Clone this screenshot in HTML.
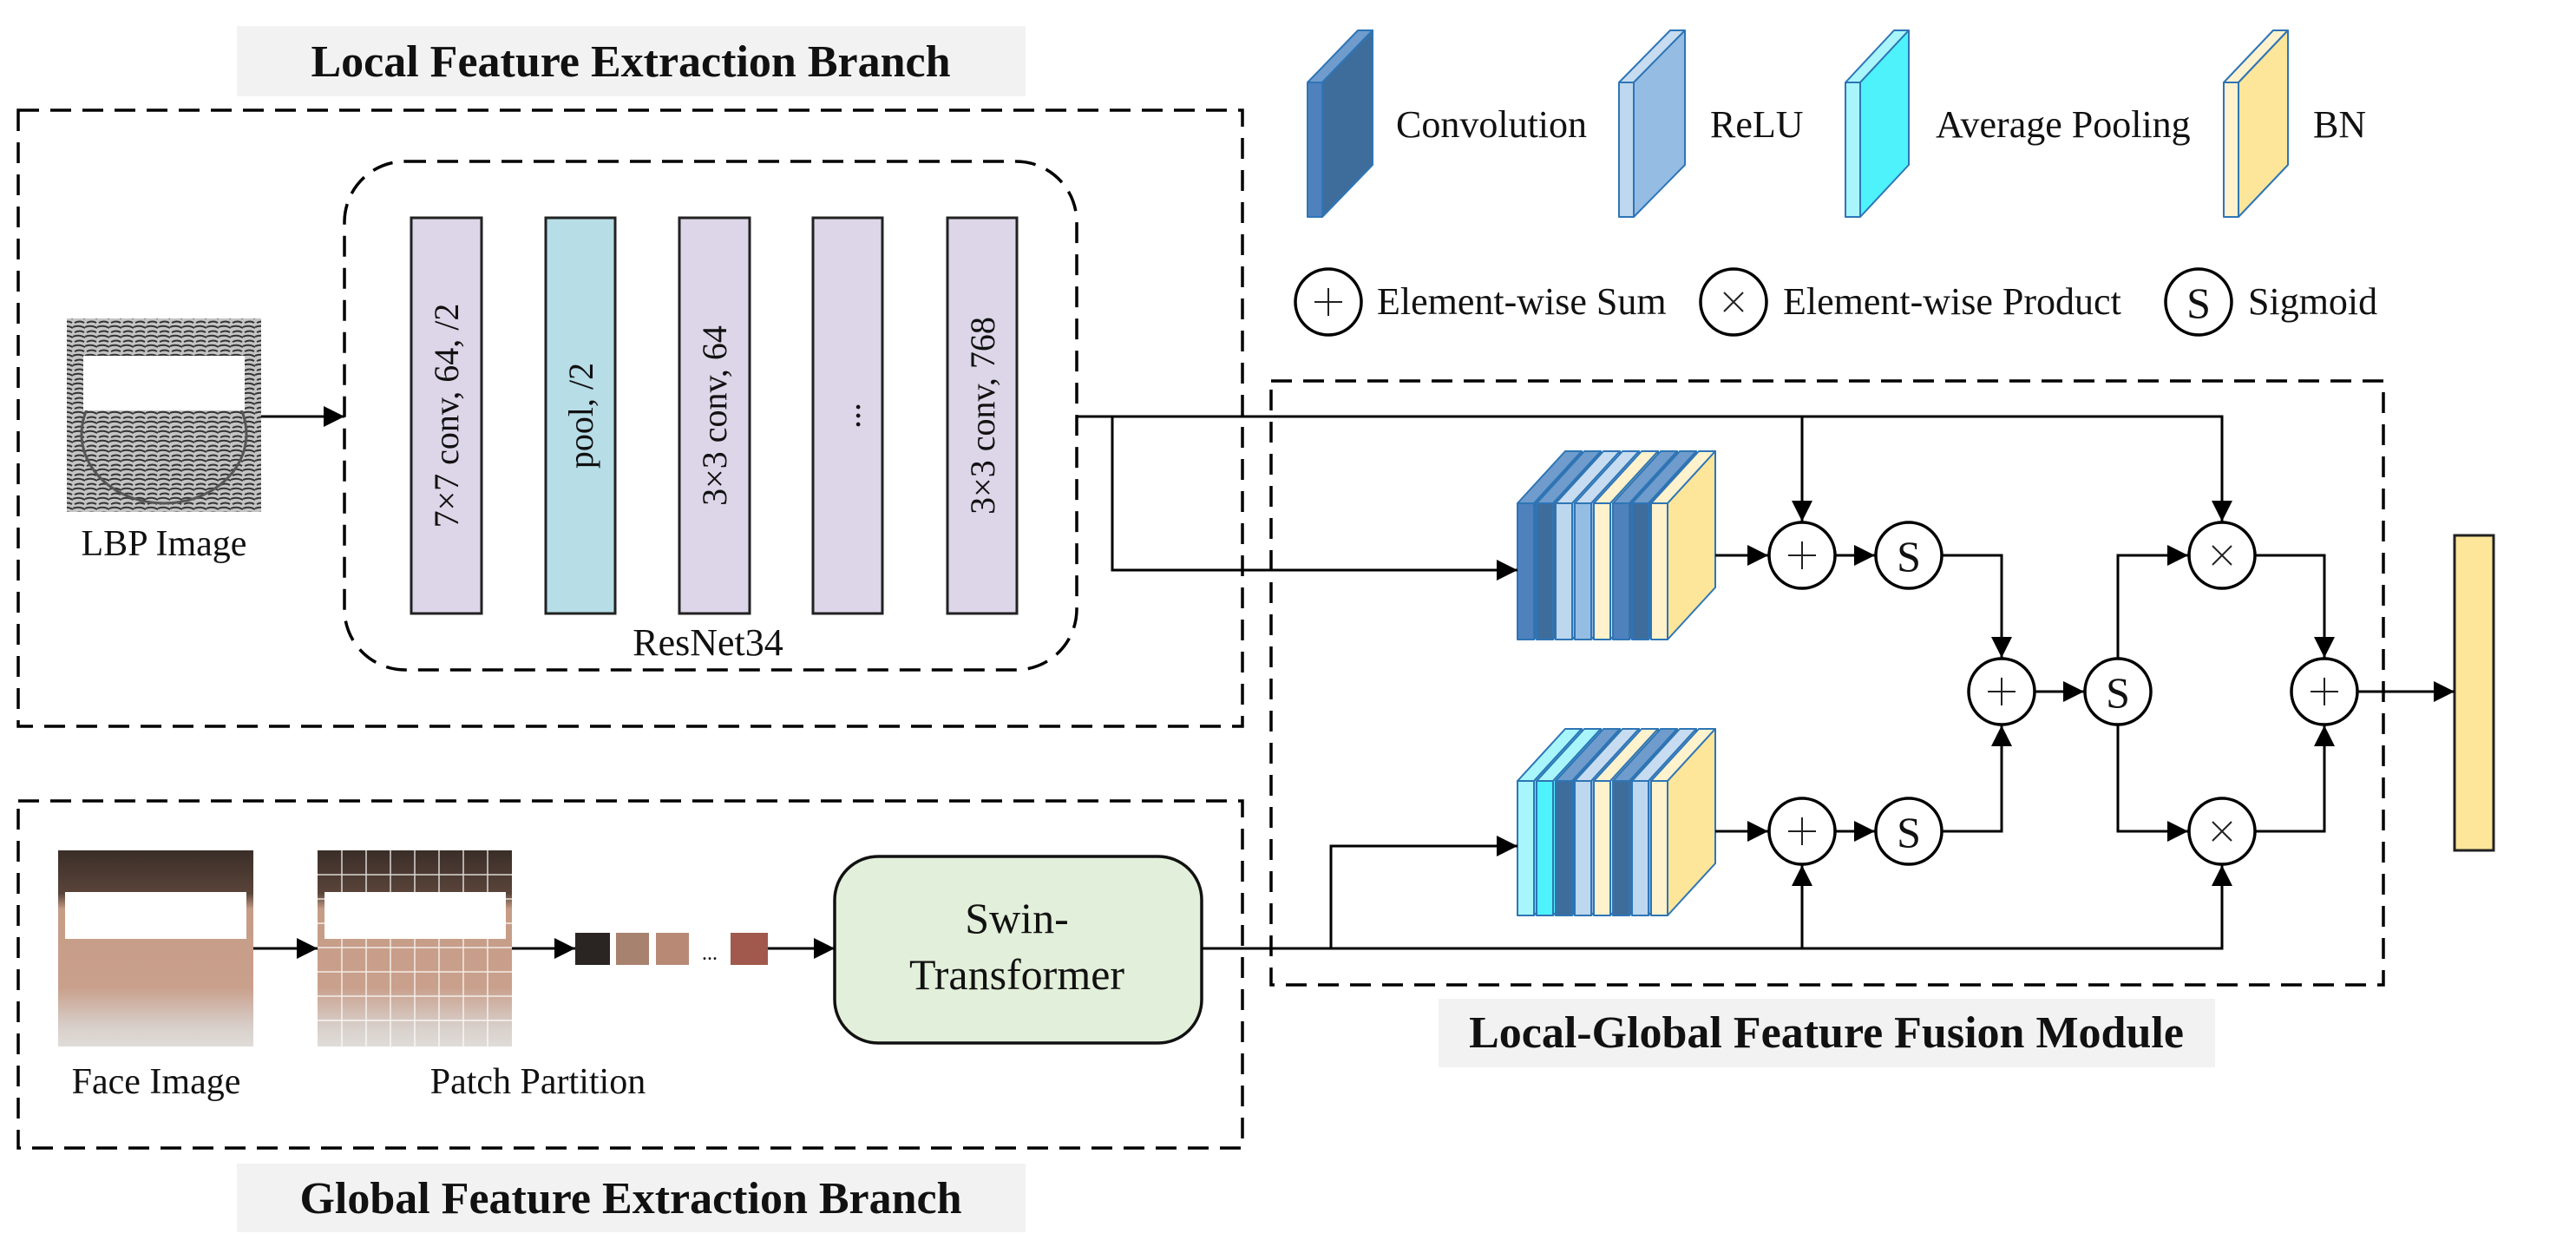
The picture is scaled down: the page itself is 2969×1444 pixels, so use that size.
<!DOCTYPE html>
<html><head><meta charset="utf-8"><style>
html,body{margin:0;padding:0;background:#fff}
svg{display:block}
text{font-family:"Liberation Serif",serif;fill:#111}
</style></head><body>
<svg width="2969" height="1444" viewBox="0 0 2969 1444" xmlns="http://www.w3.org/2000/svg">
<defs>
<marker id="ar" viewBox="0 0 10 10" refX="10" refY="5" markerWidth="8.5" markerHeight="8" markerUnits="strokeWidth" orient="auto"><path d="M0,0 L10,5 L0,10 z" fill="#000"/></marker>
<linearGradient id="skin" x1="0" y1="0" x2="0" y2="1"><stop offset="0" stop-color="#3a2e28"/><stop offset="0.22" stop-color="#5a443a"/><stop offset="0.3" stop-color="#c59c86"/><stop offset="0.7" stop-color="#c9a08c"/><stop offset="0.9" stop-color="#d8cfca"/><stop offset="1" stop-color="#e0dcd8"/></linearGradient>
<pattern id="lbp" width="14" height="11" patternUnits="userSpaceOnUse"><rect width="14" height="11" fill="#c4c4c4"/><path d="M0,3 Q7,0 14,4 M2,9 Q8,6 13,9" stroke="#333" stroke-width="2" fill="none"/></pattern>
</defs>

<rect x="273" y="30" width="909" height="81" fill="#f2f2f2"/>
<text x="727" y="88" font-size="52" font-weight="bold" text-anchor="middle">Local Feature Extraction Branch</text>
<rect x="273" y="1341" width="909" height="79" fill="#f2f2f2"/>
<text x="727" y="1398" font-size="52" font-weight="bold" text-anchor="middle">Global Feature Extraction Branch</text>
<rect x="1658" y="1151" width="895" height="79" fill="#f2f2f2"/>
<text x="2105" y="1207" font-size="52" font-weight="bold" text-anchor="middle">Local-Global Feature Fusion Module</text>

<g fill="none" stroke="#000" stroke-width="3.5" stroke-dasharray="24 13">
<rect x="21" y="127" width="1411" height="710"/>
<rect x="21" y="923" width="1411" height="400"/>
<rect x="1465" y="439" width="1282" height="696"/>
<rect x="397" y="186" width="844" height="586" rx="70"/>
</g>

<g stroke="#222" stroke-width="3">
<rect x="474" y="251" width="81" height="456" fill="#dcd6e8"/>
<rect x="629" y="251" width="80" height="456" fill="#b7dde7"/>
<rect x="783" y="251" width="81" height="456" fill="#dcd6e8"/>
<rect x="937" y="251" width="80" height="456" fill="#dcd6e8"/>
<rect x="1092" y="251" width="80" height="456" fill="#dcd6e8"/>
</g>
<g font-size="40">
<text transform="translate(528,479) rotate(-90)" text-anchor="middle">7×7 conv, 64, /2</text>
<text transform="translate(683,479) rotate(-90)" text-anchor="middle">pool, /2</text>
<text transform="translate(837,479) rotate(-90)" text-anchor="middle">3×3 conv, 64</text>
<text transform="translate(991,479) rotate(-90)" text-anchor="middle">...</text>
<text transform="translate(1146,479) rotate(-90)" text-anchor="middle">3×3 conv, 768</text>
</g>
<text x="816" y="755" font-size="44" text-anchor="middle">ResNet34</text>

<rect x="77" y="367" width="224" height="223" fill="url(#lbp)"/>
<ellipse cx="189" cy="500" rx="95" ry="80" fill="none" stroke="#555" stroke-width="3"/>
<rect x="96" y="410" width="186" height="63" fill="#fff"/>
<text x="189" y="640" font-size="42" text-anchor="middle">LBP Image</text>

<rect x="67" y="980" width="225" height="226" fill="url(#skin)"/>
<rect x="75" y="1028" width="209" height="54" fill="#fff"/>
<rect x="366" y="980" width="224" height="226" fill="url(#skin)"/>
<g stroke="#fff" stroke-width="1.5" opacity="0.8">
<path d="M394,980V1206M422,980V1206M450,980V1206M478,980V1206M506,980V1206M534,980V1206M562,980V1206M366,1008H590M366,1036H590M366,1064H590M366,1092H590M366,1120H590M366,1148H590M366,1176H590"/>
</g>
<rect x="374" y="1028" width="209" height="54" fill="#fff"/>
<text x="180" y="1260" font-size="42" text-anchor="middle">Face Image</text>
<text x="620" y="1260" font-size="42" text-anchor="middle">Patch Partition</text>
<rect x="663" y="1075" width="40" height="37" fill="#2a2522"/>
<rect x="710" y="1075" width="38" height="37" fill="#a7826e"/>
<rect x="756" y="1075" width="38" height="37" fill="#b88a76"/>
<text x="818" y="1106" font-size="24" text-anchor="middle">...</text>
<rect x="842" y="1075" width="43" height="37" fill="#a0594c"/>

<rect x="962" y="987" width="423" height="215" rx="50" fill="#e2efda" stroke="#111" stroke-width="3.5"/>
<text x="1172" y="1075" font-size="50" text-anchor="middle">Swin-</text>
<text x="1172" y="1140" font-size="50" text-anchor="middle">Transformer</text>

<g stroke="#2e75b6" stroke-width="2" stroke-linejoin="round">
<path d="M1507,95 L1565,35 L1582,35 L1524,95 Z" fill="#6f9ccc"/><path d="M1524,95 L1582,35 L1582,190 L1524,250 Z" fill="#3e6d9c"/><rect x="1507" y="95" width="17" height="155" fill="#4f81bd"/>
<path d="M1866,95 L1925,35 L1942,35 L1883,95 Z" fill="#c7dcf0"/><path d="M1883,95 L1942,35 L1942,190 L1883,250 Z" fill="#95bde3"/><rect x="1866" y="95" width="17" height="155" fill="#bdd7ee"/>
<path d="M2127,95 L2183,35 L2200,35 L2144,95 Z" fill="#a8f6fb"/><path d="M2144,95 L2200,35 L2200,190 L2144,250 Z" fill="#4ef2fb"/><rect x="2127" y="95" width="17" height="155" fill="#a8f5fb"/>
<path d="M2563,95 L2620,35 L2637,35 L2580,95 Z" fill="#fff2cc"/><path d="M2580,95 L2637,35 L2637,190 L2580,250 Z" fill="#fde599"/><rect x="2563" y="95" width="17" height="155" fill="#fff2cc"/>
</g>
<g font-size="44">
<text x="1609" y="158">Convolution</text>
<text x="1971" y="158">ReLU</text>
<text x="2231" y="158">Average Pooling</text>
<text x="2666" y="158">BN</text>
<text x="1587" y="362">Element-wise Sum</text>
<text x="2055" y="362">Element-wise Product</text>
<text x="2591" y="362">Sigmoid</text>
</g>

<g stroke="#2e75b6" stroke-width="2" stroke-linejoin="round">
<g>
<path d="M1749,580 L1804,520 L1823,520 L1768,580Z" fill="#6f9ccc"/><path d="M1768,580 L1823,520 L1823,677 L1768,737Z" fill="#3e6d9c"/><rect x="1749" y="580" width="19" height="157" fill="#4f81bd"/>
<path d="M1771,580 L1826,520 L1845,520 L1790,580Z" fill="#6f9ccc"/><path d="M1790,580 L1845,520 L1845,677 L1790,737Z" fill="#3e6d9c"/><rect x="1771" y="580" width="19" height="157" fill="#3e6d9c"/>
<path d="M1793,580 L1848,520 L1867,520 L1812,580Z" fill="#c7dcf0"/><path d="M1812,580 L1867,520 L1867,677 L1812,737Z" fill="#95bde3"/><rect x="1793" y="580" width="19" height="157" fill="#bdd7ee"/>
<path d="M1815,580 L1870,520 L1889,520 L1834,580Z" fill="#c7dcf0"/><path d="M1834,580 L1889,520 L1889,677 L1834,737Z" fill="#95bde3"/><rect x="1815" y="580" width="19" height="157" fill="#95bde3"/>
<path d="M1837,580 L1892,520 L1911,520 L1856,580Z" fill="#fff2cc"/><path d="M1856,580 L1911,520 L1911,677 L1856,737Z" fill="#fde599"/><rect x="1837" y="580" width="19" height="157" fill="#fff2cc"/>
<path d="M1859,580 L1914,520 L1933,520 L1878,580Z" fill="#6f9ccc"/><path d="M1878,580 L1933,520 L1933,677 L1878,737Z" fill="#3e6d9c"/><rect x="1859" y="580" width="19" height="157" fill="#4f81bd"/>
<path d="M1881,580 L1936,520 L1955,520 L1900,580Z" fill="#6f9ccc"/><path d="M1900,580 L1955,520 L1955,677 L1900,737Z" fill="#3e6d9c"/><rect x="1881" y="580" width="19" height="157" fill="#3e6d9c"/>
<path d="M1903,580 L1958,520 L1977,520 L1922,580Z" fill="#fff2cc"/><path d="M1922,580 L1977,520 L1977,677 L1922,737Z" fill="#fde599"/><rect x="1903" y="580" width="19" height="157" fill="#fff2cc"/>
</g>
<g>
<path d="M1749,900 L1804,840 L1823,840 L1768,900Z" fill="#a8f6fb"/><path d="M1768,900 L1823,840 L1823,995 L1768,1055Z" fill="#4ef2fb"/><rect x="1749" y="900" width="19" height="155" fill="#a8f5fb"/>
<path d="M1771,900 L1826,840 L1845,840 L1790,900Z" fill="#a8f6fb"/><path d="M1790,900 L1845,840 L1845,995 L1790,1055Z" fill="#4ef2fb"/><rect x="1771" y="900" width="19" height="155" fill="#4ef2fb"/>
<path d="M1793,900 L1848,840 L1867,840 L1812,900Z" fill="#6f9ccc"/><path d="M1812,900 L1867,840 L1867,995 L1812,1055Z" fill="#3e6d9c"/><rect x="1793" y="900" width="19" height="155" fill="#3e6d9c"/>
<path d="M1815,900 L1870,840 L1889,840 L1834,900Z" fill="#c7dcf0"/><path d="M1834,900 L1889,840 L1889,995 L1834,1055Z" fill="#95bde3"/><rect x="1815" y="900" width="19" height="155" fill="#bdd7ee"/>
<path d="M1837,900 L1892,840 L1911,840 L1856,900Z" fill="#fff2cc"/><path d="M1856,900 L1911,840 L1911,995 L1856,1055Z" fill="#fde599"/><rect x="1837" y="900" width="19" height="155" fill="#fff2cc"/>
<path d="M1859,900 L1914,840 L1933,840 L1878,900Z" fill="#6f9ccc"/><path d="M1878,900 L1933,840 L1933,995 L1878,1055Z" fill="#3e6d9c"/><rect x="1859" y="900" width="19" height="155" fill="#3e6d9c"/>
<path d="M1881,900 L1936,840 L1955,840 L1900,900Z" fill="#c7dcf0"/><path d="M1900,900 L1955,840 L1955,995 L1900,1055Z" fill="#95bde3"/><rect x="1881" y="900" width="19" height="155" fill="#bdd7ee"/>
<path d="M1903,900 L1958,840 L1977,840 L1922,900Z" fill="#fff2cc"/><path d="M1922,900 L1977,840 L1977,995 L1922,1055Z" fill="#fde599"/><rect x="1903" y="900" width="19" height="155" fill="#fff2cc"/>
</g>
</g>

<rect x="2829" y="617" width="45" height="363" fill="#fde599" stroke="#222" stroke-width="3"/>

<g fill="none" stroke="#000" stroke-width="3">
<path d="M301,480H397" marker-end="url(#ar)"/>
<path d="M1241,480H2561V601" marker-end="url(#ar)"/>
<path d="M2077,480V601" marker-end="url(#ar)"/>
<path d="M1282,480V657H1749" marker-end="url(#ar)"/>
<path d="M1977,640H2038" marker-end="url(#ar)"/>
<path d="M2116,640H2161" marker-end="url(#ar)"/>
<path d="M2239,640H2307V758" marker-end="url(#ar)"/>
<path d="M2346,797H2402" marker-end="url(#ar)"/>
<path d="M2441,758V640H2522" marker-end="url(#ar)"/>
<path d="M2600,640H2679V758" marker-end="url(#ar)"/>
<path d="M2441,836V958H2522" marker-end="url(#ar)"/>
<path d="M2600,958H2679V836" marker-end="url(#ar)"/>
<path d="M2718,797H2829" marker-end="url(#ar)"/>
<path d="M1977,958H2038" marker-end="url(#ar)"/>
<path d="M2116,958H2161" marker-end="url(#ar)"/>
<path d="M2239,958H2307V836" marker-end="url(#ar)"/>
<path d="M1385,1093H2561V997" marker-end="url(#ar)"/>
<path d="M2077,1093V997" marker-end="url(#ar)"/>
<path d="M1534,1093V975H1749" marker-end="url(#ar)"/>
<path d="M292,1093H366" marker-end="url(#ar)"/>
<path d="M590,1093H663" marker-end="url(#ar)"/>
<path d="M885,1093H962" marker-end="url(#ar)"/>
</g>

<g stroke="#000" stroke-width="3.5" fill="#fff">
<circle cx="1531" cy="348" r="38"/><circle cx="1998" cy="348" r="38"/><circle cx="2534" cy="348" r="38"/>
<circle cx="2077" cy="640" r="38"/><circle cx="2200" cy="640" r="38"/><circle cx="2561" cy="640" r="38"/>
<circle cx="2307" cy="797" r="38"/><circle cx="2441" cy="797" r="38"/><circle cx="2679" cy="797" r="38"/>
<circle cx="2077" cy="958" r="38"/><circle cx="2200" cy="958" r="38"/><circle cx="2561" cy="958" r="38"/>
</g>
<g stroke="#222" stroke-width="2" fill="none">
<path d="M1531,332V364M1515,348H1547"/>
<path d="M1987,337L2009,359M2009,337L1987,359"/>
<path d="M2077,624V656M2061,640H2093"/>
<path d="M2550,629L2572,651M2572,629L2550,651"/>
<path d="M2307,781V813M2291,797H2323"/>
<path d="M2679,781V813M2663,797H2695"/>
<path d="M2077,942V974M2061,958H2093"/>
<path d="M2550,947L2572,969M2572,947L2550,969"/>
</g>
<g font-size="50" text-anchor="middle">
<text x="2534" y="366">S</text>
<text x="2200" y="658">S</text>
<text x="2441" y="815">S</text>
<text x="2200" y="976">S</text>
</g>
</svg>
</body></html>
